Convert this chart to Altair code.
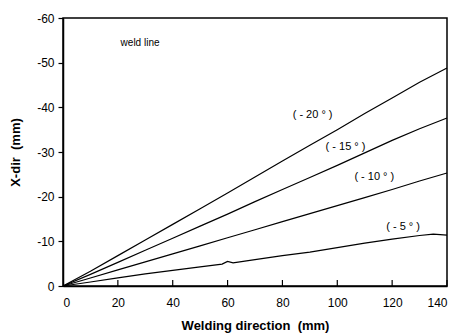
import altair as alt
import pandas as pd

xs = [0, 10, 20, 30, 40, 50, 60, 70, 80, 90, 100, 110, 120, 130, 140]
d20 = [0, 3.3, 6.8, 10.3, 13.8, 17.3, 20.8, 24.4, 28.0, 31.5, 35.0, 38.6, 42.1, 45.6, 48.8]
d15 = [0, 2.6, 5.3, 8.0, 10.7, 13.4, 16.1, 18.9, 21.6, 24.3, 27.0, 29.8, 32.6, 35.2, 37.6]
d10 = [0, 1.8, 3.6, 5.4, 7.2, 9.0, 10.8, 12.6, 14.4, 16.2, 18.0, 19.8, 21.6, 23.5, 25.3]
xs5 = [0, 10, 20, 30, 40, 50, 58, 60, 62, 70, 80, 90, 100, 110, 120, 130, 135, 140]
d5 = [0, 0.9, 1.8, 2.7, 3.5, 4.3, 4.9, 5.5, 5.2, 5.9, 6.8, 7.6, 8.6, 9.6, 10.5, 11.3, 11.6, 11.4]

label_text = ["( - 20 ° )", "( - 15 ° )", "( - 10 ° )", "( - 5 ° )"]
label_x = [91, 103, 113.5, 124]
label_y = [-38.3, -31.1, -24.4, -13.2]

x_ticks = [20, 40, 60, 80, 100, 120, 140]

rows = []
for name, xv, yv in [("-20", xs, d20), ("-15", xs, d15), ("-10", xs, d10), ("-5", xs5, d5)]:
    for a, b in zip(xv, yv):
        rows.append({"s": name, "x": a, "y": -b})
df = pd.DataFrame(rows)
lab = pd.DataFrame({"t": label_text, "x": label_x, "y": label_y})
ticks = pd.DataFrame({"x": x_ticks})
note = pd.DataFrame({"t": ["weld line"], "x": [21], "y": [-54.5]})

FONT = "Liberation Sans"
NB = "\u00a0"

xsc = alt.Scale(domain=[0, 140], nice=False)
ysc = alt.Scale(domain=[-60, 0], reverse=True, nice=False)

lines = alt.Chart(df).mark_line(color="black", strokeWidth=1.2).encode(
    x=alt.X("x:Q", scale=xsc, axis=alt.Axis(
        values=[0, 20, 40, 60, 80, 100, 120, 140], ticks=False, grid=False,
        title="Welding direction" + NB + NB + "(mm)", titleFont=FONT, titleFontSize=13,
        titleFontWeight="bold", titleColor="black", titlePadding=11,
        labelFont=FONT, labelFontSize=12, labelColor="black", labelPadding=11,
        domainColor="black", domainWidth=1.5)),
    y=alt.Y("y:Q", scale=ysc, axis=alt.Axis(
        values=[0, -10, -20, -30, -40, -50, -60], grid=False,
        tickSize=5, tickColor="black", tickWidth=1.2,
        labelExpr="datum.value == 0 ? '0' : '-' + abs(datum.value)",
        title="X-dir" + NB + NB + "(mm)", titleFont=FONT, titleFontSize=13,
        titleFontWeight="bold", titleColor="black", titlePadding=14,
        labelFont=FONT, labelFontSize=12, labelColor="black", labelPadding=4,
        domainColor="black", domainWidth=1.5)),
    detail="s:N",
)

tick_marks = alt.Chart(ticks).mark_rule(color="black", strokeWidth=1.2).encode(
    x=alt.X("x:Q", scale=xsc),
    y=alt.value(268),
    y2=alt.value(262),
)

labels = alt.Chart(lab).mark_text(font=FONT, fontSize=11, color="black").encode(
    x=alt.X("x:Q", scale=xsc), y=alt.Y("y:Q", scale=ysc), text="t:N"
)

weld = alt.Chart(note).mark_text(font=FONT, fontSize=10, color="black", align="left").encode(
    x=alt.X("x:Q", scale=xsc), y=alt.Y("y:Q", scale=ysc), text="t:N"
)

chart = alt.layer(lines, tick_marks, labels, weld).properties(
    width=384, height=268,
    padding={"left": 63, "top": 18, "right": 10, "bottom": 50},
    autosize="none",
    background="white",
).configure_view(stroke="black", strokeWidth=1.5)

chart.save("out.html", embed_options={"renderer": "svg", "actions": False})
